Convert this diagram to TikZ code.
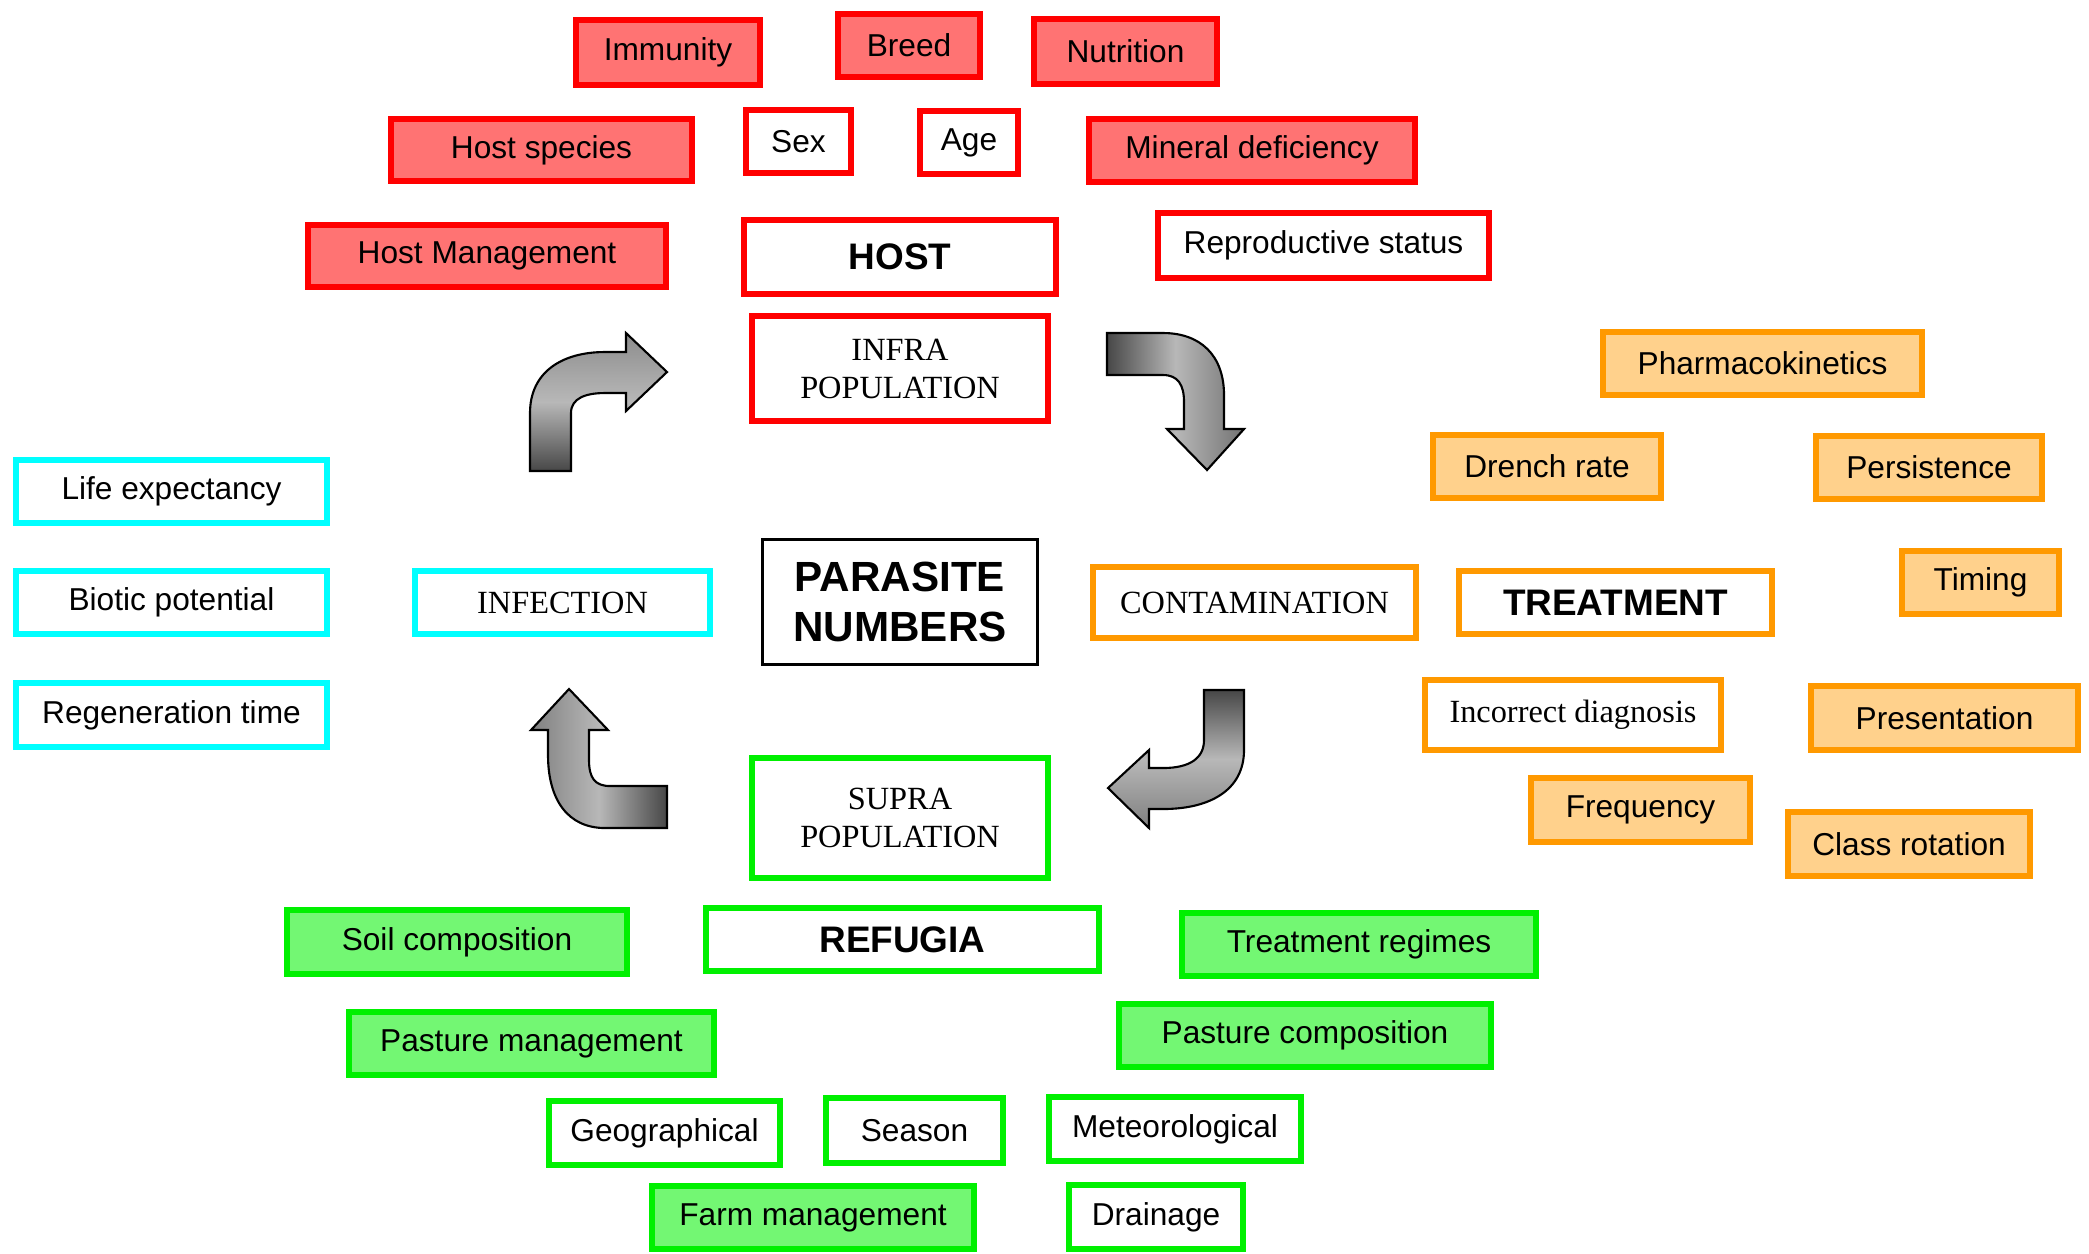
\documentclass[tikz,border=0pt]{standalone}
\usepackage{fontspec}
\setmainfont{Liberation Sans}
\newfontfamily\timesface{Liberation Serif}
\definecolor{hostred}{RGB}{255,0,0}
\definecolor{treatorange}{RGB}{255,153,0}
\definecolor{refgreen}{RGB}{0,240,0}
\definecolor{infcyan}{RGB}{0,255,255}
\begin{document}
\begin{tikzpicture}[x=0.01cm, y=-0.01cm]
			\tikzstyle{factor}   = [rectangle, line width=1.8pt, inner sep=0pt, align=center, font=\fontsize{9}{10.5}\selectfont]
			\tikzstyle{factorR}  = [factor, draw=hostred, fill=hostred!55]
			\tikzstyle{factorRw} = [factor, draw=hostred, fill=white]
			\tikzstyle{factorO}  = [factor, draw=treatorange, fill=treatorange!45]
			\tikzstyle{factorG}  = [factor, draw=refgreen, fill=refgreen!55]
			\tikzstyle{factorGw} = [factor, draw=refgreen, fill=white]
			\tikzstyle{factorC}  = [factor, draw=infcyan, fill=white]
			\tikzstyle{headR}    = [factor, draw=hostred, font=\fontsize{10.5}{12}\selectfont\bfseries]
			\tikzstyle{headO}    = [factor, draw=treatorange, font=\fontsize{10.5}{12}\selectfont\bfseries]
			\tikzstyle{headG}    = [factor, draw=refgreen, font=\fontsize{10.5}{12}\selectfont\bfseries]
			\tikzstyle{stageR}   = [factor, draw=hostred, font=\timesface\fontsize{9.2}{10.8}\selectfont]
			\tikzstyle{stageO}   = [factor, draw=treatorange, font=\timesface\fontsize{9.2}{10.8}\selectfont]
			\tikzstyle{stageG}   = [factor, draw=refgreen, font=\timesface\fontsize{9.2}{10.8}\selectfont]
			\tikzstyle{stageC}   = [factor, draw=infcyan, font=\timesface\fontsize{9.2}{10.8}\selectfont]
			\tikzstyle{bigarrow} = [draw=black, line width=0.6pt]

			\useasboundingbox (0,0) rectangle (2089,1253);

			\node[rectangle, draw=black, line width=0.8pt, minimum width=278*0.01cm-0.8pt, minimum height=128*0.01cm-0.8pt, align=center, font=\fontsize{12}{14}\selectfont\bfseries] (parasite) at (900,602) {PARASITE\\NUMBERS};

			\foreach \name/\x/\y/\w/\h/\styl/\txt in {immunity/668/52.5/190/71/R/Immunity, breed/909/45.5/148/69/R/Breed, nutrition/1125.5/51.5/189/71/R/Nutrition, hostspecies/541.5/150/307/68/R/Host species, sex/798.5/141.5/111/69/Rw/Sex, age/969/142.5/104/69/Rw/Age, mineral/1252/150.5/332/69/R/Mineral deficiency, hostmanagement/487/256/364/68/R/Host Management, reproductive/1323.5/245.5/337/71/Rw/Reproductive status, pharmacokinetics/1762.5/363.5/325/69/O/Pharmacokinetics, drenchrate/1547/466.5/234/69/O/Drench rate, persistence/1929/467.5/232/69/O/Persistence, timing/1980.5/582.5/163/69/O/Timing, presentation/1944.5/718/273/70/O/Presentation, frequency/1640.5/810/225/70/O/Frequency, classrotation/1909/844/248/70/O/Class rotation, lifeexp/171.5/491.5/317/69/C/Life expectancy, biotic/171.5/602.5/317/69/C/Biotic potential, regeneration/171.5/715/317/70/C/Regeneration time, soil/457/942/346/70/G/Soil composition, treatregimes/1359/944.5/360/69/G/Treatment regimes, pasturemgmt/531.5/1043.5/371/69/G/Pasture management, pasturecomp/1305/1035.5/378/69/G/Pasture composition, geographical/664.5/1133/237/70/Gw/Geographical, season/914.5/1130.5/183/71/Gw/Season, meteorological/1175/1129/258/70/Gw/Meteorological, farmmgmt/813/1217.5/328/69/G/Farm management, drainage/1156/1217/180/70/Gw/Drainage}
				\node[factor\styl, minimum width=\w*0.01cm-1.8pt, minimum height=\h*0.01cm-1.8pt] (\name) at (\x, \y) {\txt};

			\foreach \name/\x/\y/\w/\h/\styl/\txt in {host/900/257/318/80/R/HOST, treatment/1615.5/602.5/319/69/O/TREATMENT, refugia/902.5/939.5/399/69/G/REFUGIA}
				\node[head\styl, minimum width=\w*0.01cm-1.8pt, minimum height=\h*0.01cm-1.8pt] (\name) at (\x, \y) {\txt};

			\foreach \name/\x/\y/\w/\h/\styl/\txt in {infra/900/368.5/302/111/R/INFRA\\POPULATION, contamination/1254.5/602.5/329/77/O/CONTAMINATION, supra/900/818/302/126/G/SUPRA\\POPULATION, infection/562.5/602.5/301/69/C/INFECTION, incorrect/1573/715/302/76/O/Incorrect diagnosis}
				\node[stage\styl, minimum width=\w*0.01cm-1.8pt, minimum height=\h*0.01cm-1.8pt] (\name) at (\x, \y) {\txt};

			% cycle arrows
			\shade[bigarrow, top color=black!45, bottom color=black!72, middle color=black!28]
				(530,471) -- (530,413) .. controls (530,372) and (562,352) .. (605,352) -- (626,352) -- (626,333) -- (667,372) -- (626,411) -- (626,393) -- (605,393) .. controls (586,393) and (571,398) .. (571,413) -- (571,471) -- cycle;
			\shade[bigarrow, left color=black!72, right color=black!55, middle color=black!28]
				(1107,333) -- (1163,333) .. controls (1200,333) and (1224,355) .. (1224,395) -- (1224,429) -- (1244,429) -- (1207,470) -- (1167,429) -- (1184,429) -- (1184,402) .. controls (1184,385) and (1178,375) .. (1163,375) -- (1107,375) -- cycle;
			\shade[bigarrow, top color=black!72, bottom color=black!50, middle color=black!28]
				(1204,690) -- (1244,690) -- (1244,750) .. controls (1244,790) and (1210,809) .. (1163,809) -- (1149,809) -- (1149,828) -- (1108,788) -- (1149,750) -- (1149,768) -- (1163,768) .. controls (1190,768) and (1204,758) .. (1204,740) -- cycle;
			\shade[bigarrow, left color=black!50, right color=black!72, middle color=black!28]
				(667,786) -- (667,828) -- (605,828) .. controls (568,828) and (548,800) .. (548,755) -- (548,730) -- (531,730) -- (569,689) -- (608,730) -- (589,730) -- (589,760) .. controls (589,778) and (595,786) .. (610,786) -- cycle;
\end{tikzpicture}
\end{document}
